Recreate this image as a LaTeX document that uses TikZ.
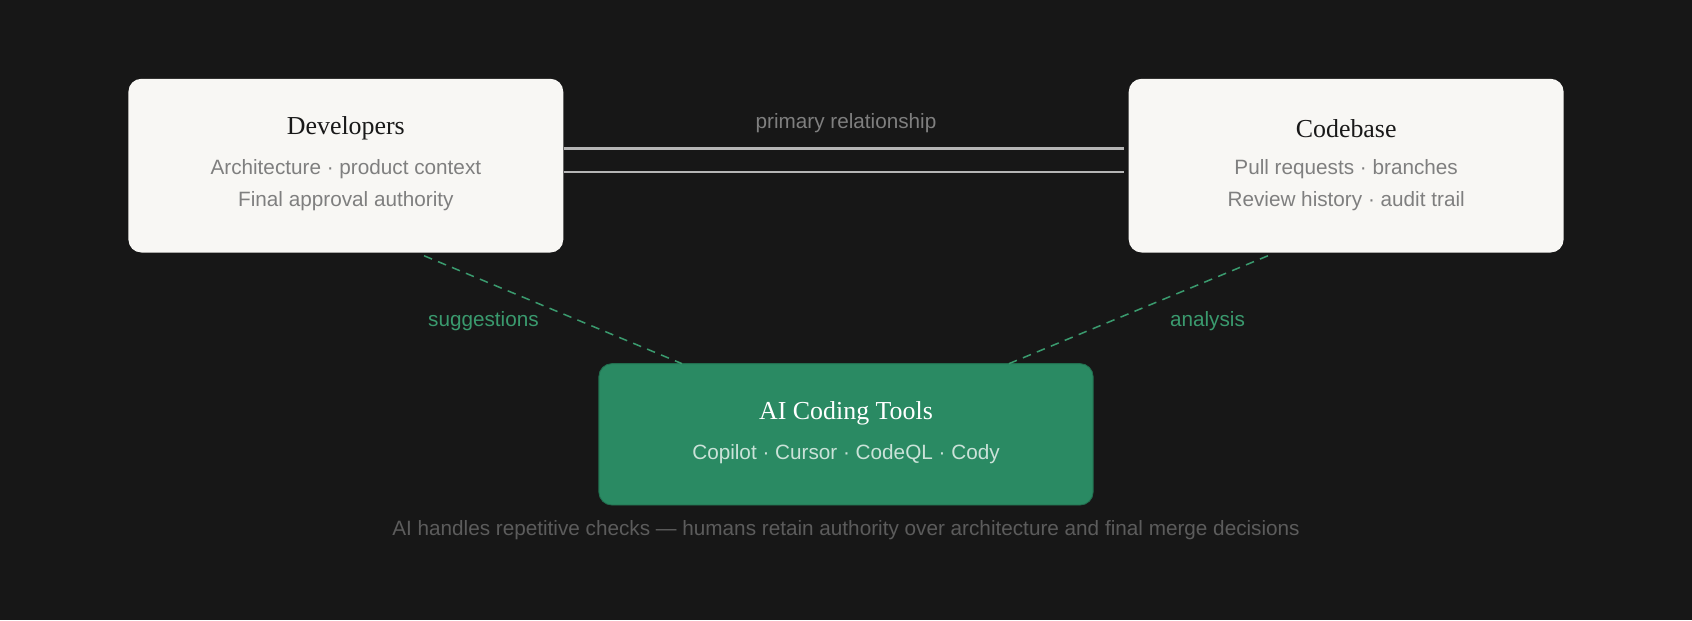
\documentclass[tikz,border=0pt]{standalone}
\usepackage{fontspec}
\setmainfont{Liberation Serif}
\setsansfont{Liberation Sans}
\usetikzlibrary{calc}
\definecolor{bg}{HTML}{171717}
\definecolor{boxw}{HTML}{F8F7F4}
\definecolor{aig}{HTML}{2A8A63}
\definecolor{lbl}{HTML}{3A9A6E}
\definecolor{gtx}{HTML}{7F7F7F}
\definecolor{cap}{HTML}{5C5C5C}
\definecolor{ln}{HTML}{B5B5B5}
\tikzset{
 card/.style={rectangle,rounded corners=6pt,minimum width=201.5pt,minimum height=80.5pt,inner sep=0pt},
 ttl/.style={font=\fontsize{12}{14}\selectfont},
 sub/.style={font=\sffamily\fontsize{9.6}{12}\selectfont},
 dline/.style={ln,line width=1pt},
 gdash/.style={lbl,dashed,dash pattern=on 4pt off 3pt,line width=0.7pt}
}
\begin{document}
\begin{tikzpicture}[x=0.5pt,y=-0.5pt]
\fill[bg] (0,0) rectangle (1568,575);
\useasboundingbox (0,0) rectangle (1568,575);
\node[card,fill=boxw] (dev) at (320.5,153.5) {};
\node[card,fill=boxw] (cb) at (1247.5,153.5) {};
\node[card,fill=aig,draw=aig!80!black,minimum width=229pt,minimum height=65.5pt] (ai) at (784,402.5) {};
\node[ttl,text=black!90] (devt) at (320.5,119) {Developers};
\node[sub,text=gtx] (devs1) at (320.5,157) {Architecture · product context};
\node[sub,text=gtx] (devs2) at (320.5,186) {Final approval authority};
\node[ttl,text=black!90] (cbt) at (1247.5,119) {Codebase};
\node[sub,text=gtx] (cbs1) at (1247.5,157) {Pull requests · branches};
\node[sub,text=gtx] (cbs2) at (1247.5,186) {Review history · audit trail};
\node[ttl,text=white] (ait) at (784,383) {AI Coding Tools};
\node[sub,text=white!75!aig] (ais) at (784,421) {Copilot · Cursor · CodeQL · Cody};
\draw[dline] ($(dev.north east)+(0,65)$) -- ($(cb.north west)+(-4,65)$);
\draw[dline] ($(dev.north east)+(0,87)$) -- ($(cb.north west)+(-4,87)$);
\node[sub,text=gtx] (prl) at (784,114) {primary relationship};
\coordinate (d1) at (393,237);
\coordinate (d2) at (632,337);
\coordinate (c1) at (1175,237);
\coordinate (c2) at (935,337);
\draw[gdash] (d1) -- (d2);
\draw[gdash] (c1) -- (c2);
\node[sub,text=lbl] (sg) at (448,298) {suggestions};
\node[sub,text=lbl] (an) at (1119,298) {analysis};
\node[sub,text=cap] (capt) at (784,491) {AI handles repetitive checks — humans retain authority over architecture and final merge decisions};
\end{tikzpicture}
\end{document}
